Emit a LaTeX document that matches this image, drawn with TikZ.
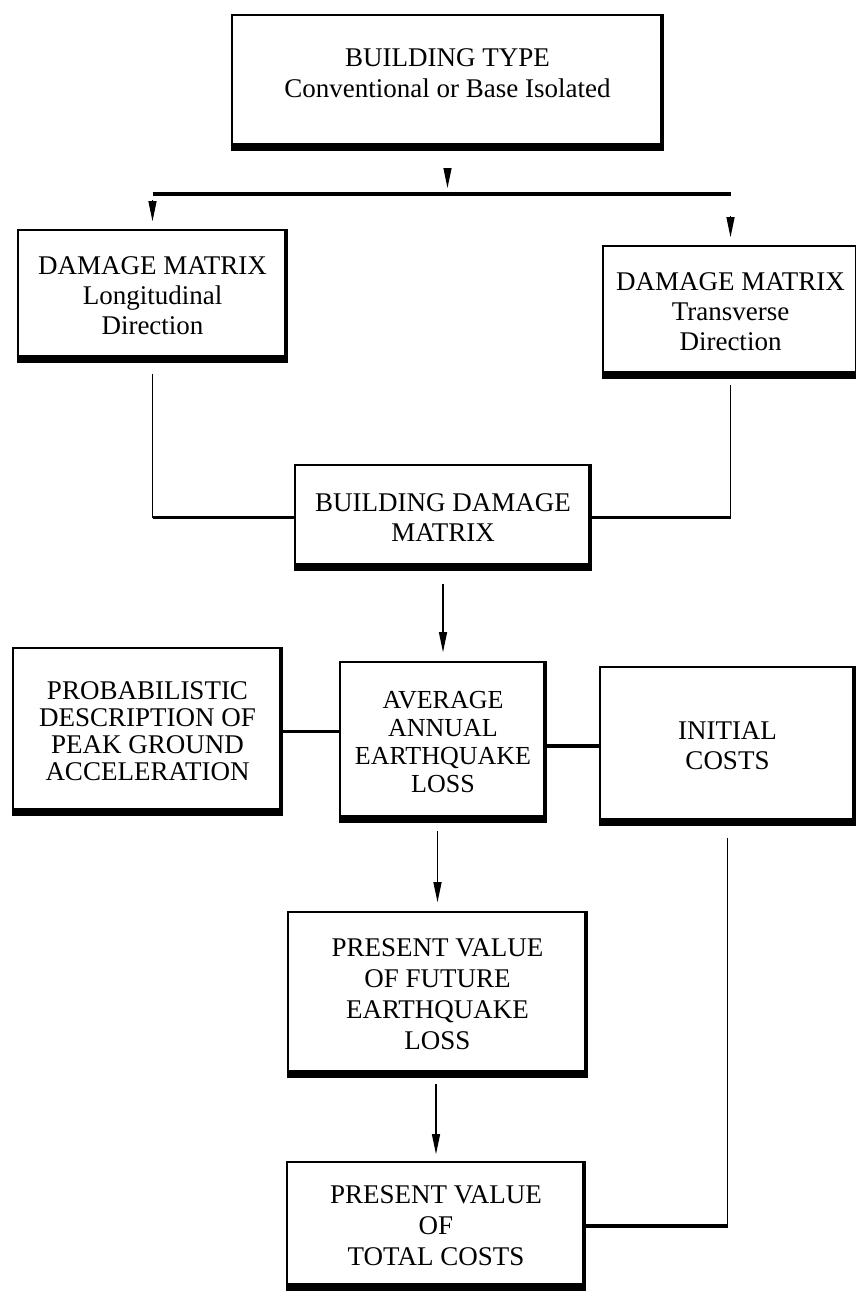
\documentclass[tikz,border=0pt]{standalone}
\usepackage{fontspec}
\setmainfont{Liberation Serif}
\usetikzlibrary{arrows.meta}

\begin{document}
\begin{tikzpicture}[x=1pt,y=-1pt]
            \tikzstyle{every node}=[draw,line width=1.6pt,align=center,inner sep=0pt,font=\fontsize{27}{30}\selectfont]
            \tikzstyle{arr}=[line width=1.2pt,-{Triangle[length=20pt,width=8pt]}]
            \tikzstyle{feed}=[line width=3.5pt]
            \tikzstyle{wire}=[line width=1.2pt]
            \useasboundingbox (0,0) rectangle (856,1295);
            \draw (447.5,82.5) node [minimum width=431,minimum height=135] (bt) {BUILDING TYPE\\[1pt]Conventional or Base Isolated\\[-12pt]\mbox{}};
            \draw (152.5,296) node [minimum width=269,minimum height=132] (dml) {DAMAGE MATRIX\\Longitudinal\\Direction};
            \draw (730.5,312) node [minimum width=255,minimum height=132] (dmt) {DAMAGE MATRIX\\Transverse\\Direction};
            \draw (443,517.5) node [minimum width=296,minimum height=105] (bdm) {BUILDING DAMAGE\\MATRIX};
            \draw (147.5,731.5) node [minimum width=269,minimum height=167,font=\fontsize{27}{27}\selectfont] (prob) {PROBABILISTIC\\DESCRIPTION OF\\PEAK GROUND\\ACCELERATION};
            \draw (443,742) node [minimum width=206,minimum height=160,font=\fontsize{26}{28}\selectfont] (aael) {AVERAGE\\ANNUAL\\EARTHQUAKE\\LOSS};
            \draw (727.5,746) node [minimum width=255,minimum height=158] (init) {INITIAL\\COSTS};
            \draw (437.5,994.5) node [minimum width=299,minimum height=165,font=\fontsize{27}{31}\selectfont] (pvf) {PRESENT VALUE\\OF FUTURE\\EARTHQUAKE\\LOSS};
            \draw (436,1226) node [minimum width=298,minimum height=128,font=\fontsize{27}{31}\selectfont] (pvt) {PRESENT VALUE\\OF\\TOTAL COSTS};
            % heavy bottom and right edges
            \foreach \n in {bt,dml,dmt,bdm,prob,aael,init,pvf,pvt} {
                \draw[line width=8pt] ([yshift=4pt]\n.south west) -- ([yshift=4pt]\n.south east);
                \draw[line width=4.5pt] ([xshift=-2pt]\n.north east) -- ([xshift=-2pt]\n.south east);
            }
            \coordinate (busL) at (152.5,194);
            \coordinate (busR) at (730.5,194);
            \draw[feed] (busL) -- (busR);
            \draw[arr,shorten <=18pt,shorten >=6pt] (bt.south) -- (bt.south |- busL);
            \draw[arr,shorten <=6pt,shorten >=8pt] (busL) -- (dml.north);
            \draw[arr,shorten <=22pt,shorten >=8pt] (busR) -- (dmt.north);
            \draw[wire,shorten <=11pt] (dml.south) -- (dml.south |- bdm.west);
            \draw[feed] (dml.south |- bdm.west) -- (bdm.west);
            \draw[wire,shorten <=6pt] (dmt.south) -- (dmt.south |- bdm.east);
            \draw[feed] (dmt.south |- bdm.east) -- (bdm.east);
            \draw[arr,shorten <=13pt,shorten >=9pt] (bdm.south) -- (aael.north);
            \draw[feed] (prob.east) -- (prob.east -| aael.west);
            \draw[feed] (init.west) -- (init.west -| aael.east);
            \draw[arr,shorten <=8pt,shorten >=9pt] (pvf.north |- aael.south) -- (pvf.north);
            \draw[arr,shorten <=6pt,shorten >=7pt] (pvt.north |- pvf.south) -- (pvt.north);
            \draw[wire,shorten <=12pt] (init.south) -- (init.south |- pvt.east);
            \draw[feed] (init.south |- pvt.east) -- (pvt.east);
\end{tikzpicture}
\end{document}
